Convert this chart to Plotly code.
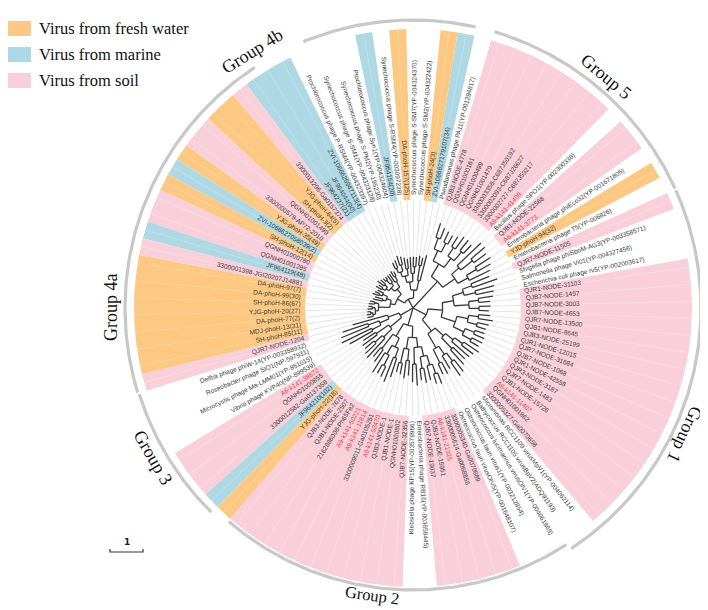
import math
import numpy as np
import plotly.graph_objects as go

# ---------------- data ----------------
tip_labels = [
    "Pseudomonas phage PA11(YP-001294817)", "ZVI-1066627179107(34)", "SH-phoH-24(3)",
    "Synechococcus phage S-SM2(YP-004322422)", "Synechococcus phage S-SM7(YP-004324370)",
    "DA-phoH-157(125)", "Synechococcus phage S-RSM4(YP-003097238)", "JF964154(20)",
    "Prochlorococcus phage Syn1(YP-004324604)", "Synechococcus phage S-PM2(YP-195230)",
    "Synechococcus phage S-SM1(YP-004323128)", "Prochlorococcus phage P-RSM4(YP-004323397)",
    "ZVI-1066626947113(4)", "JF964044(90)", "JF964237(21)", "3300013296-Ga0157374",
    "YJG-phoH-64(5)", "SH-phoH-3(2)", "QGNH01001499", "3300000579-AP72-2010",
    "YJG-phoH-35(49)", "ZVI-1066627058039(2)", "SH-phoH-12(14)", "QGNH01000780",
    "QGNH01001285", "JF964119(48)", "3300001398-JGI20207J14881", "DA-phoH-97(7)",
    "DA-phoH-99(30)", "SH-phoH-86(67)", "YJG-phoH-20(27)", "DA-phoH-77(2)",
    "MDJ-phoH-13(31)", "SH-phoH-85(11)", "QJR7-NODE-1204",
    "Delftia phage phiW-14(YP-003358932)", "Roseobacter phage SIO1(NP-597931)",
    "Microcystis phage Ma-LMM01(YP-851015)", "Vibrio phage KVP40(NP-899539)",
    "A6-k141-38672", "QGNH01000855", "3300012582-Ga0137358", "JF964210(102)",
    "YJG-phoH-22(18)", "QJB3-NODE-7678", "QJB1-NODE-2507", "2162886008-Ph65Fe2",
    "A9-k141-50221", "A9-k141-11814", "3300009011-Ga0105251", "A9-k141-52470",
    "QJB3-NODE-1", "QJB1-NODE-1", "QGNH01000802", "QJB7-NODE-32356",
    "Klebsiella phage KP15(YP-003579966)", "Enterobacteria phage RB16(YP-003858445)",
    "QJB7-NODE-19037", "QJB3-NODE-15951", "A6-k141-21325", "3300005614-Ga0068856",
    "3300005340-Ga0070689", "Ostreococcus tauri virusOtV5(YP-001648107)",
    "Ostreococcus tauri virus1(YP-003212854)",
    "Ostreococcus lucimarinus virusOlV1(YP-004061869)",
    "Bathycoccus RCC1105 virusBpV2(ADQ91193)",
    "Micromonas RCC1109 virusMpV1(YP-004062114)", "3300005327-Ga0070658",
    "QGNH01001862", "A6-k141-11407", "QJB1-NODE-15726", "QJR7-NODE-1483",
    "QJR3-NODE-3187", "QJR1-NODE-42558", "QJB7-NODE-1068", "QJR7-NODE-31684",
    "QJR1-NODE-12015", "QJB3-NODE-25199", "QJB1-NODE-8645", "QJR7-NODE-13500",
    "QJB7-NODE-4653", "QJB7-NODE-3003", "QJB7-NODE-1497", "QJR1-NODE-31103",
    "Escherichia coli phage rv5(YP-002003617)", "Salmonella phage Vi01(YP-004327456)",
    "Shigella phage phiSboM-AG3(YP-003358571)", "QJR7-NODE-11505",
    "Enterobacteria phage T5(YP-006826)", "YJD-phoH-94(32)",
    "Enterobacteria phage phiEco32(YP-001671805)", "A6-k141-3773", "QJB1-NODE-22568",
    "Bacillus phage SPO1(YP-002300338)", "A9-k141-41409", "3300002727-C687J59217",
    "3300002093-C687J26627", "3300003358-C687J50192", "QGNH01001479", "QGNH01000499",
    "QGNH01000161", "QJB3-NODE-4778",
]

# habitat of each tip: F fresh water, M marine, S soil, N reference (no highlight)
tip_habitat = list(
    "NMFNNFNMNNNNMMMSFFSSFMFSSMSFFFFFFFS"  # 1-35
    "NNNNSSSMF"                             # 36-44
    "SSSSSSSSSSSNNSSSSS"                    # 45-62
    "NNNNN"                                 # 63-67
    "SSSSSSSSSSSSSSSSS"                     # 68-84
    "NNNSNFNSSNSSSSSSSS"                    # 85-102
)

# tree topology (tips numbered by their position in tip_labels), branch lengths
newick = (
    "((((1:0.8,(2:0.25,3:0.3):0.45):0.3,(((4:0.3,5:0.3):0.2,6:0.5):0.25,((7:0.3,8:0.35):0.2,"
    "((9:0.25,10:0.3):0.2,(11:0.25,12:0.2):0.15):0.15):0.2):0.25):0.25,((((13:0.15,14:0.2):0.15,"
    "15:0.3):0.2,((16:0.25,(17:0.1,18:0.12):0.15):0.1,((19:0.2,20:0.25):0.1,(21:0.15,22:0.2):0.1)"
    ":0.1):0.15):0.2,(((23:0.2,(24:0.15,25:0.2):0.1):0.15,(26:0.25,27:0.3):0.1):0.15,((28:0.15,"
    "29:0.18):0.12,((30:0.12,31:0.15):0.08,((32:0.1,33:0.12):0.06,34:0.18):0.08):0.1):0.35):0.15)"
    ":0.25):0.3,"
    "((35:1.1,((36:0.8,37:0.9):0.35,(38:1.0,39:0.8):0.3):0.3):0.35,((40:0.45,41:0.55):0.45,((42:0.35,"
    "43:0.45):0.3,44:0.8):0.35):0.45):0.45,"
    "(((45:0.35,46:0.45):0.55,((47:0.7,(48:0.3,49:0.35):0.35):0.3,(50:0.8,51:0.6):0.3):0.3):0.45,"
    "(((52:0.3,53:0.35):0.45,(54:0.55,55:0.45):0.35):0.35,((56:0.55,57:0.65):0.5,((58:0.35,59:0.45):0.35,"
    "(60:0.45,(61:0.3,62:0.35):0.3):0.3):0.3):0.3):0.35):0.55,"
    "((((63:0.35,64:0.4):0.45,(65:0.45,(66:0.5,67:0.45):0.3):0.3):0.5,((68:0.6,69:0.5):0.45,(70:0.7,"
    "(71:0.45,72:0.55):0.3):0.3):0.35):0.45,((((73:0.3,74:0.35):0.3,(75:0.35,76:0.3):0.3):0.35,"
    "((77:0.3,78:0.35):0.3,(79:0.45,80:0.35):0.3):0.35):0.45,(((81:0.3,82:0.35):0.3,(83:0.35,84:0.45)"
    ":0.3):0.45,((85:0.55,86:0.6):0.35,(87:0.8,88:0.6):0.3):0.35):0.35):0.45):0.45,"
    "(((89:0.7,(90:0.45,91:0.55):0.35):0.35,((92:0.45,93:0.55):0.45,94:1.0):0.3):0.45,(((95:0.35,96:0.4)"
    ":0.35,(97:0.45,98:0.35):0.3):0.35,((99:0.3,100:0.35):0.3,(101:0.35,102:0.45):0.35):0.35):0.45):1.1"
    ");"
)

group_names = ["Group 5", "Group 1", "Group 2", "Group 3", "Group 4a", "Group 4b"]
group_first = [89, 66, 45, 36, 15, 2]
group_last = [102, 88, 65, 43, 35, 11]

legend_names = ["Virus from fresh water", "Virus from marine", "Virus from soil"]
habitat_colors = {"F": "#FCC882", "M": "#ADD8E4", "S": "#F9CFD9"}
legend_codes = ["F", "M", "S"]

scale_bar_length = 1.0

# ---------------- geometry / style ----------------
W, H = 708, 610
CX, CY = 405, 300          # circle centre in pixels
PX_PER_UNIT = 33.0         # tree scale
R_SECT_IN, R_SECT_OUT = 108, 279
R_LAB = 113
START_ANGLE = 75.5
N = len(tip_labels)
STEP = 360.0 / N

group_arc_r = [288, 288, 282, 287, 288, 288]
group_text_ang = [50, -25, 262, 210, 180, 122]
group_text_r = [301, 300, 290, 300, 302, 303]
group_text_size = [18, 18, 16.5, 18, 18, 18]
group_text_inward = [False, False, True, True, False, False]


def tip_angle(i):  # i is 1-based
    return START_ANGLE + (i - 1) * STEP


def pol(r, deg):
    a = math.radians(deg)
    return r * math.cos(a), r * math.sin(a)


def arc_pts(r, a0, a1, n=None):
    if n is None:
        n = max(2, int(abs(a1 - a0) / 0.5) + 2)
    angs = np.linspace(a0, a1, n)
    return [r * math.cos(math.radians(a)) for a in angs], [r * math.sin(math.radians(a)) for a in angs]


# ---------------- parse tree ----------------
def parse_newick(s):
    pos = 0

    def node():
        nonlocal pos
        children = []
        if s[pos] == "(":
            pos += 1
            while True:
                children.append(node())
                if s[pos] == ",":
                    pos += 1
                    continue
                if s[pos] == ")":
                    pos += 1
                    break
        name = ""
        while pos < len(s) and s[pos] not in ":,);":
            name += s[pos]
            pos += 1
        length = 0.0
        if pos < len(s) and s[pos] == ":":
            pos += 1
            num = ""
            while s[pos] not in ",);":
                num += s[pos]
                pos += 1
            length = float(num)
        return {"name": name, "len": length, "children": children}

    return node()


tree = parse_newick(newick)


def layout(nd, depth):
    nd["r"] = (depth + nd["len"]) * PX_PER_UNIT
    if nd["children"]:
        for c in nd["children"]:
            layout(c, depth + nd["len"])
        nd["theta"] = 0.5 * (nd["children"][0]["theta"] + nd["children"][-1]["theta"])
    else:
        nd["theta"] = tip_angle(int(nd["name"]))


layout(tree, 0.0)

tree_x, tree_y = [], []
ext_x, ext_y = [], []


def draw(nd, parent_r):
    x0, y0 = pol(parent_r, nd["theta"])
    x1, y1 = pol(nd["r"], nd["theta"])
    tree_x.extend([x0, x1, None])
    tree_y.extend([y0, y1, None])
    if nd["children"]:
        a0 = nd["children"][0]["theta"]
        a1 = nd["children"][-1]["theta"]
        if nd["r"] > 0:
            ax, ay = arc_pts(nd["r"], a0, a1)
            tree_x.extend(ax + [None])
            tree_y.extend(ay + [None])
        for c in nd["children"]:
            draw(c, nd["r"])
    else:
        ex0, ey0 = pol(nd["r"], nd["theta"])
        ex1, ey1 = pol(R_SECT_IN, nd["theta"])
        ext_x.extend([ex0, ex1, None])
        ext_y.extend([ey0, ey1, None])


for c in tree["children"]:
    draw(c, 0.0)

fig = go.Figure()

# ---------------- highlight sectors ----------------
runs = []
i = 0
while i < N:
    code = tip_habitat[i]
    j = i
    while j + 1 < N and tip_habitat[j + 1] == code:
        j += 1
    if code in habitat_colors:
        runs.append((code, i + 1, j + 1))
    i = j + 1

for code, a, b in runs:
    th0 = tip_angle(a) - STEP / 2
    th1 = tip_angle(b) + STEP / 2
    ox, oy = arc_pts(R_SECT_OUT, th0, th1)
    ix, iy = arc_pts(R_SECT_IN, th1, th0)
    fig.add_trace(go.Scatter(
        x=ox + ix + [ox[0]], y=oy + iy + [oy[0]], mode="lines", fill="toself",
        fillcolor=habitat_colors[code], line=dict(width=0), hoverinfo="skip",
        showlegend=False))

sep_x, sep_y = [], []
for k in range(1, N + 1):
    th = tip_angle(k)
    if tip_habitat[k - 1] in habitat_colors:
        x0, y0 = pol(R_SECT_IN, th)
        x1, y1 = pol(R_SECT_OUT, th)
        sep_x.extend([x0, x1, None])
        sep_y.extend([y0, y1, None])
fig.add_trace(go.Scatter(x=sep_x, y=sep_y, mode="lines",
                         line=dict(color="rgba(255,255,255,0.35)", width=0.6),
                         hoverinfo="skip", showlegend=False))

fig.add_trace(go.Scatter(x=ext_x, y=ext_y, mode="lines",
                         line=dict(color="#d4d4d4", width=0.6),
                         hoverinfo="skip", showlegend=False))
fig.add_trace(go.Scatter(x=tree_x, y=tree_y, mode="lines",
                         line=dict(color="#383838", width=1.3),
                         hoverinfo="skip", showlegend=False))

# ---------------- group arcs + labels ----------------
for gi, gname in enumerate(group_names):
    a0 = tip_angle(group_first[gi]) - STEP * 0.45
    a1 = tip_angle(group_last[gi]) + STEP * 0.45
    ax, ay = arc_pts(group_arc_r[gi], a0, a1)
    fig.add_trace(go.Scatter(x=ax, y=ay, mode="lines",
                             line=dict(color="#c8c8c8", width=3.2),
                             hoverinfo="skip", showlegend=False))
    ang = group_text_ang[gi]
    gx, gy = pol(group_text_r[gi], ang)
    ta = (270 - ang) if group_text_inward[gi] else (90 - ang)
    ta = (ta + 180) % 360 - 180
    fig.add_annotation(x=gx, y=gy, text=gname, showarrow=False, textangle=ta,
                       xanchor="center", yanchor="middle", borderpad=0,
                       font=dict(family="Liberation Serif, Times New Roman, serif",
                                 size=group_text_size[gi], color="#111111"))

# ---------------- tip labels ----------------
HIDE = '<span style="color:rgba(0,0,0,0)">{}</span>'
for k, lab in enumerate(tip_labels, start=1):
    th = tip_angle(k) % 360
    x, y = pol(R_LAB, th)
    col = "#E23B3B" if lab.startswith(("A6-", "A9-")) else "#3a3a3a"
    if th <= 90 or th > 270:
        txt = HIDE.format(lab) + lab
        ta = -th if th <= 90 else 360 - th
    else:
        txt = lab + HIDE.format(lab)
        ta = 180 - th
    fig.add_annotation(x=x, y=y, text=txt, showarrow=False, textangle=ta,
                       xanchor="center", yanchor="middle",
                       font=dict(family="Liberation Sans, Arial, sans-serif", size=6.5, color=col))

# ---------------- scale bar ----------------
sb_x0, sb_y = 102 - CX, CY - 544
sb_len = scale_bar_length * PX_PER_UNIT
fig.add_trace(go.Scatter(
    x=[sb_x0, sb_x0, sb_x0 + sb_len, sb_x0 + sb_len],
    y=[sb_y + 3, sb_y, sb_y, sb_y + 3], mode="lines",
    line=dict(color="#333333", width=1.2), hoverinfo="skip", showlegend=False))
fig.add_annotation(x=sb_x0 + sb_len / 2, y=sb_y + 10, text="<b>1</b>", showarrow=False,
                   font=dict(family="DejaVu Sans, sans-serif", size=9, color="#222222"))

# ---------------- legend ----------------
for n, (name, code) in enumerate(zip(legend_names, legend_codes)):
    yc = 20.5 + n * 26
    fig.add_shape(type="rect", xref="paper", yref="paper",
                  x0=0, x1=23 / W, y0=1 - (yc + 7.5) / H, y1=1 - (yc - 7.5) / H,
                  fillcolor=habitat_colors[code], line=dict(width=0))
    fig.add_annotation(xref="paper", yref="paper", x=29 / W, y=1 - yc / H, text=name,
                       showarrow=False, xanchor="left", yanchor="middle",
                       font=dict(family="Liberation Serif, Times New Roman, serif", size=16.5,
                                 color="#111111"))

fig.update_layout(
    width=W, height=H, margin=dict(l=0, r=0, t=0, b=0),
    paper_bgcolor="white", plot_bgcolor="white", showlegend=False,
    xaxis=dict(range=[-CX, W - CX], visible=False, fixedrange=True),
    yaxis=dict(range=[CY - H, CY], visible=False, fixedrange=True),
)

fig.write_html("out.html")
